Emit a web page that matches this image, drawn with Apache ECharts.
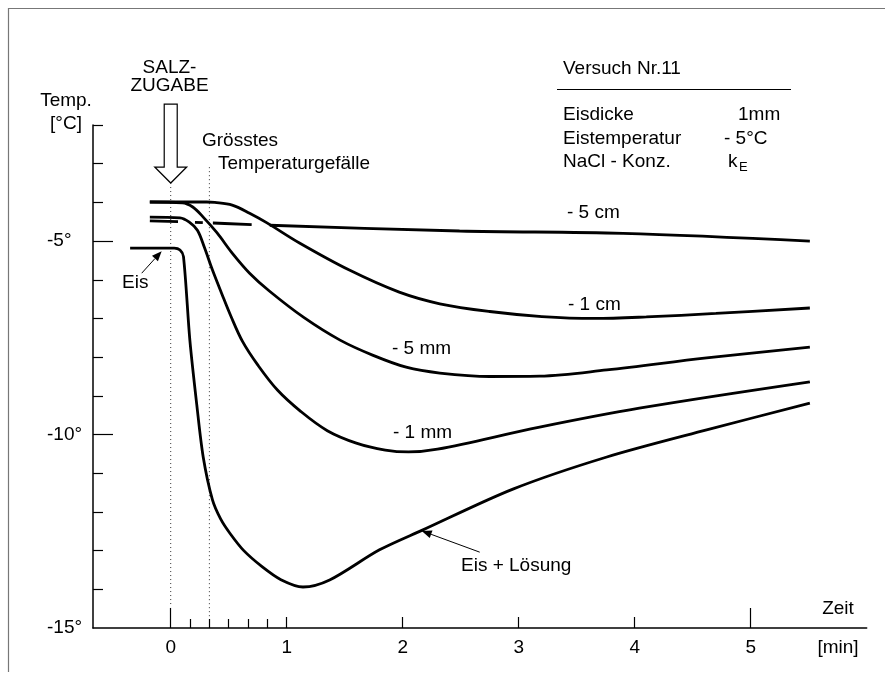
<!DOCTYPE html>
<html><head><meta charset="utf-8">
<script src="https://cdn.jsdelivr.net/npm/echarts@6/dist/echarts.min.js"></script>
<style>html,body{margin:0;padding:0;background:#fff}#c{width:885px;height:682px}</style>
</head><body><div id="c"></div>
<script>
const FONT = '"Liberation Sans", Arial, Helvetica, sans-serif';

// ---- axis ticks / labels ----
const xTickLabels = [0, 1, 2, 3, 4, 5];
const xTicksShort = [1, 2, 3, 4];
const xTicksLong = [0, 5];
const xTicksMinor = [1/6, 2/6, 3/6, 4/6, 5/6];
const yTickLabels = [-5, -10, -15];
const yTicksShort = [-2, -3, -4, -6, -7, -8, -9, -11, -12, -13, -14];
const yTicksLong = [-5, -10];

// ---- series data: [time (min), temperature (°C)] ----
const curve5cm = [[-0.18,-4.48],[0.08,-4.50],[0.85,-4.59],[2.49,-4.74],[3.90,-4.80],[5.51,-5.00]];
const curve1cm = [[-0.18,-3.99],[0.31,-3.99],[0.38,-4.00],[0.53,-4.07],[0.68,-4.28],[0.83,-4.53],[1.11,-5.05],[1.54,-5.75],[1.97,-6.32],[2.32,-6.62],[2.75,-6.82],[3.20,-6.95],[3.65,-7.00],[4.10,-6.96],[4.70,-6.87],[5.51,-6.73]];
const curve5mm = [[-0.18,-3.99],[0.10,-4.01],[0.19,-4.12],[0.28,-4.38],[0.40,-4.79],[0.53,-5.31],[0.68,-5.83],[0.85,-6.29],[1.15,-6.98],[1.46,-7.56],[1.75,-7.96],[2.03,-8.26],[2.32,-8.41],[2.75,-8.50],[3.18,-8.49],[3.76,-8.33],[4.62,-8.02],[5.51,-7.74]];
const curve1mm = [[-0.18,-4.38],[0.08,-4.40],[0.16,-4.51],[0.23,-4.72],[0.29,-5.16],[0.36,-5.75],[0.44,-6.36],[0.52,-6.95],[0.62,-7.60],[0.75,-8.20],[0.92,-8.85],[1.12,-9.40],[1.35,-9.90],[1.60,-10.22],[1.85,-10.40],[2.05,-10.45],[2.30,-10.38],[3.18,-9.81],[4.04,-9.32],[5.51,-8.64]];
const curveEisLoesung = [[-0.35,-5.18],[0.03,-5.18],[0.08,-5.23],[0.11,-5.40],[0.165,-7.56],[0.225,-9.24],[0.28,-10.58],[0.36,-11.69],[0.43,-12.18],[0.51,-12.55],[0.63,-13.00],[0.79,-13.42],[0.95,-13.75],[1.14,-13.94],[1.37,-13.76],[1.80,-12.98],[2.17,-12.47],[2.95,-11.41],[3.76,-10.58],[4.62,-9.88],[5.51,-9.19]];

// dotted marker lines (salt addition, steepest gradient)
const dotSalt = [[0,-3.5],[0,-14.46]];
const dotGrad = [[1/3,-3.09],[1/3,-14.72]];

// annotation arrows: [tail, tip] in data coords
const arrowEis = [[-0.25,-5.83],[-0.078,-5.26]];
const arrowEisL = [[2.664,-13.04],[2.164,-12.49]];
const saltArrowTip = [0, -3.5];

const chart = echarts.init(document.getElementById('c'), null, {renderer:'canvas'});

function xAx(ticks, len, opts) {
  return Object.assign({
    type:'value', min:-0.67, max:6.0, position:'bottom',
    axisLine:{show:false, onZero:false}, splitLine:{show:false},
    axisLabel:{show:false},
    axisTick:{show:true, inside:true, length:len, customValues:ticks, lineStyle:{color:'#000', width:1.2}}
  }, opts || {});
}
function yAx(ticks, len, opts) {
  return Object.assign({
    type:'value', min:-15, max:-2, position:'left',
    axisLine:{show:false, onZero:false}, splitLine:{show:false},
    axisLabel:{show:false},
    axisTick:{show:true, inside:true, length:len, customValues:ticks, lineStyle:{color:'#000', width:1.2}}
  }, opts || {});
}

function curve(name, data, extra) {
  return Object.assign({
    name, type:'line', data, xAxisIndex:0, yAxisIndex:0,
    showSymbol:false, smooth:0.35, silent:true,
    lineStyle:{color:'#000', width:2.8}
  }, extra || {});
}

chart.setOption({
  animation:false,
  backgroundColor:'#fff',
  grid:{left:93, right:18.3, top:125, bottom:54, containLabel:false},
  xAxis:[
    xAx(xTicksShort, 11, {
      axisLine:{show:true, onZero:false, lineStyle:{color:'#000', width:1.5}},
      axisLabel:{show:true, customValues:xTickLabels, margin:10, color:'#000', fontSize:19, fontFamily:FONT}
    }),
    xAx(xTicksLong, 20),
    xAx(xTicksMinor, 9)
  ],
  yAxis:[
    yAx(yTicksShort, 10, {
      axisLine:{show:true, onZero:false, lineStyle:{color:'#000', width:1.5}},
      axisLabel:{show:true, customValues:yTickLabels, align:'left', margin:46, color:'#000', fontSize:19, fontFamily:FONT,
        formatter:v => v + '°'}
    }),
    yAx(yTicksLong, 20)
  ],
  series:[
    {type:'line', data:dotSalt, showSymbol:false, silent:true, lineStyle:{color:'#333', width:1, type:[1,3]}},
    {type:'line', data:dotGrad, showSymbol:false, silent:true, lineStyle:{color:'#333', width:1, type:[1,3]}},
    curve('- 5 cm', curve5cm, {lineStyle:{color:'#000', width:2.8, type:[28,17,8,10,39,18,3000]}}),
    curve('- 1 cm', curve1cm),
    curve('- 5 mm', curve5mm),
    curve('- 1 mm', curve1mm),
    curve('Eis + Lösung', curveEisLoesung, {smooth:0.3})
  ]
});

function px(p){ return chart.convertToPixel({xAxisIndex:0, yAxisIndex:0}, p); }
function txt(text, x, y, align, size) {
  return {type:'text', x, y, silent:true, style:{text, fill:'#000', font:(size||19)+'px '+FONT, align:align||'left', verticalAlign:'middle'}};
}
function arrow(tailD, tipD, len, halfW) {
  const a = px(tailD), b = px(tipD);
  const dx = b[0]-a[0], dy = b[1]-a[1], L = Math.hypot(dx,dy);
  const ux = dx/L, uy = dy/L;
  const bx = b[0]-ux*len, by = b[1]-uy*len;
  return [
    {type:'line', silent:true, shape:{x1:a[0], y1:a[1], x2:bx, y2:by}, style:{stroke:'#000', lineWidth:1}},
    {type:'polygon', silent:true, shape:{points:[[b[0],b[1]],[bx-uy*halfW, by+ux*halfW],[bx+uy*halfW, by-ux*halfW]]}, style:{fill:'#000'}}
  ];
}

const tip = px(saltArrowTip);
const tx = tip[0], ty = tip[1];
const hollow = {type:'polygon', silent:true, shape:{points:[
  [tx-6.5, ty-79],[tx+6.5, ty-79],[tx+6.5, ty-16],[tx+16, ty-16],[tx, ty],[tx-16, ty-16],[tx-6.5, ty-16]
]}, style:{fill:'#fff', stroke:'#000', lineWidth:1.2}};

const g = [
  {type:'line', silent:true, shape:{x1:8, y1:8.5, x2:885, y2:8.5}, style:{stroke:'#777', lineWidth:1.2}},
  {type:'line', silent:true, shape:{x1:8.5, y1:8, x2:8.5, y2:672}, style:{stroke:'#777', lineWidth:1.2}},
  hollow,
  txt('SALZ-', 169.5, 68, 'center'),
  txt('ZUGABE', 169.5, 86, 'center'),
  txt('Temp.', 66, 101, 'center'),
  txt('[°C]', 66, 124, 'center'),
  txt('Grösstes', 202, 141),
  txt('Temperaturgefälle', 218, 164),
  txt('Eis', 122, 283),
  txt('Versuch Nr.11', 563, 69),
  {type:'line', silent:true, shape:{x1:557, y1:89.5, x2:791, y2:89.5}, style:{stroke:'#000', lineWidth:1}},
  txt('Eisdicke', 563, 115), txt('1mm', 738, 115),
  txt('Eistemperatur', 563, 139), txt('- 5°C', 724, 139),
  txt('NaCl - Konz.', 563, 162), txt('k', 728, 162), txt('E', 739, 167, 'left', 13),
  txt('- 5 cm', 567, 213),
  txt('- 1 cm', 568, 305),
  txt('- 5 mm', 392, 349),
  txt('- 1 mm', 393, 433),
  txt('Eis + Lösung', 461, 566),
  txt('Zeit', 838, 609, 'center'),
  txt('[min]', 838, 648, 'center')
].concat(arrow(arrowEis[0], arrowEis[1], 10, 4), arrow(arrowEisL[0], arrowEisL[1], 10, 4));

chart.setOption({graphic:{elements:g}});
</script></body></html>
